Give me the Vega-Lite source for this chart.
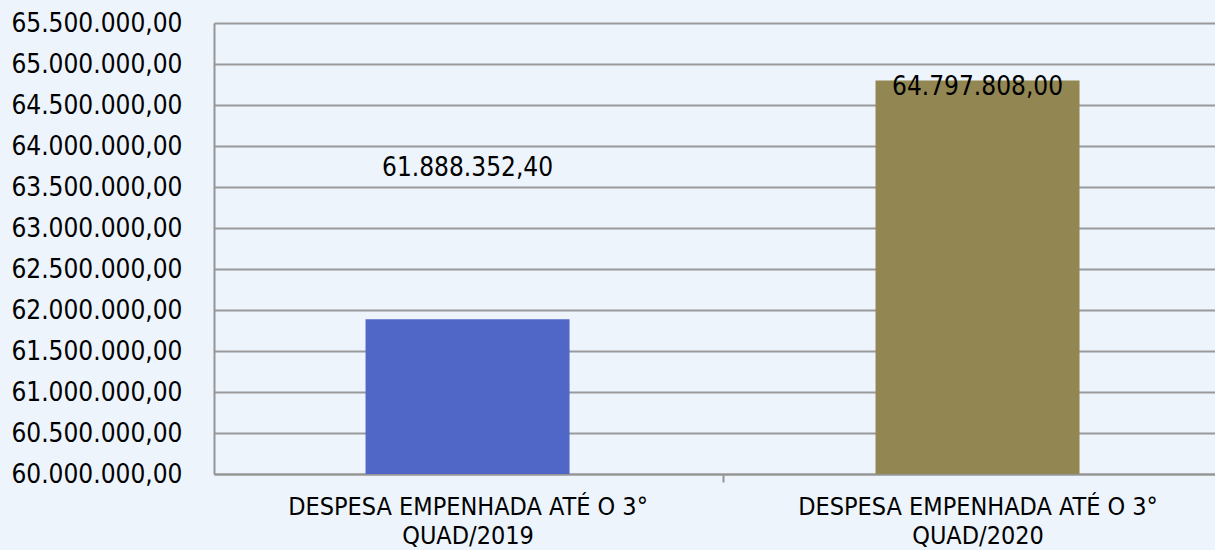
{
  "$schema": "https://vega.github.io/schema/vega-lite/v6.json",
  "width": 1001,
  "height": 451,
  "autosize": {"type": "none"},
  "padding": {"left": 214, "top": 23, "right": 0, "bottom": 76},
  "background": "#edf4fc",
  "data": {
    "values": [
      {"categoria": "DESPESA EMPENHADA ATÉ O 3° QUAD/2019", "ano": "2019", "valor": 61888352.40},
      {"categoria": "DESPESA EMPENHADA ATÉ O 3° QUAD/2020", "ano": "2020", "valor": 64797808.00}
    ]
  },
  "encoding": {
    "x": {
      "field": "categoria",
      "type": "nominal",
      "sort": null,
      "title": null,
      "scale": {"paddingInner": 0.6, "paddingOuter": 0.2814, "align": 0.528},
      "axis": {
        "labelAngle": 0,
        "labelExpr": "[slice(datum.label, 0, indexof(datum.label, ' QUAD')), slice(datum.label, indexof(datum.label, 'QUAD'))]",
        "labelLineHeight": 29,
        "labelPadding": 12,
        "labelBaseline": "top",
        "labelOverlap": false,
        "labelLimit": 0,
        "labelFontSize": 25,
        "tickOffset": 255,
        "labelOffset": -255,
        "tickSize": 8,
        "tickColor": "#959595",
        "tickWidth": 2,
        "domainColor": "#959595",
        "domainWidth": 2,
        "grid": false
      }
    },
    "y": {
      "field": "valor",
      "type": "quantitative",
      "title": null,
      "scale": {"domain": [60000000, 65500000], "zero": false, "nice": false},
      "axis": {
        "values": [60000000, 60500000, 61000000, 61500000, 62000000, 62500000, 63000000, 63500000, 64000000, 64500000, 65000000, 65500000],
        "format": ",.2f",
        "ticks": false,
        "tickSize": 0,
        "labelPadding": 32,
        "domainColor": "#959595",
        "domainWidth": 2,
        "grid": true,
        "gridColor": "#9a9a9a",
        "gridWidth": 2
      }
    }
  },
  "layer": [
    {
      "mark": {"type": "bar", "clip": true},
      "encoding": {
        "color": {
          "field": "ano",
          "type": "nominal",
          "legend": null,
          "scale": {"domain": ["2019", "2020"], "range": ["#5067c8", "#928753"]}
        }
      }
    },
    {
      "transform": [{"filter": "datum.ano == '2019'"}],
      "mark": {"type": "text", "dy": -151, "baseline": "middle", "align": "center", "fontSize": 26, "font": "DejaVu Sans Condensed", "color": "#000000"},
      "encoding": {"text": {"field": "valor", "type": "quantitative", "format": ",.2f"}}
    },
    {
      "transform": [{"filter": "datum.ano == '2020'"}],
      "mark": {"type": "text", "dy": 6, "baseline": "middle", "align": "center", "fontSize": 26, "font": "DejaVu Sans Condensed", "color": "#000000"},
      "encoding": {"text": {"field": "valor", "type": "quantitative", "format": ",.2f"}}
    }
  ],
  "config": {
    "locale": {"number": {"decimal": ",", "thousands": ".", "grouping": [3], "currency": ["R$", ""]}},
    "view": {"stroke": null},
    "axis": {
      "labelFont": "DejaVu Sans Condensed",
      "labelFontSize": 26,
      "labelColor": "#000000"
    }
  }
}
